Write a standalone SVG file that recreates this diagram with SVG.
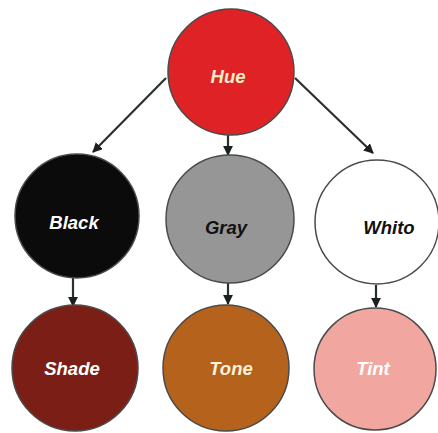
<svg xmlns="http://www.w3.org/2000/svg" width="438" height="433" viewBox="0 0 438 433">
<style>
.n{stroke:#4a4a4a;stroke-width:1.5}
.t{font-family:"Liberation Sans",Arial,sans-serif;font-weight:bold;font-style:italic;font-size:18.5px;text-anchor:middle;dominant-baseline:central}
.c{stroke:#2a3030;stroke-width:2.2;fill:none;marker-end:url(#ah)}
</style>
<defs>
<marker id="ah" viewBox="0 0 10 10" refX="9" refY="5" markerWidth="4.5" markerHeight="4.5" orient="auto" markerUnits="strokeWidth">
<path d="M0,0 L10,5 L0,10 z" fill="#1a2020"/>
</marker>
</defs>
<rect width="438" height="433" fill="#fff"/>
<g id="connectors">
<line class="c" x1="166" y1="78" x2="93" y2="152"/>
<line class="c" x1="295" y1="78" x2="373" y2="153"/>
<line class="c" x1="228" y1="135" x2="228" y2="155"/>
<line class="c" x1="73" y1="278" x2="73" y2="306"/>
<line class="c" x1="228" y1="283" x2="228" y2="304"/>
<line class="c" x1="376" y1="285" x2="376" y2="307"/>
</g>
<g id="hue"><circle class="n" cx="231" cy="72" r="63" fill="#df2226"/><text class="t" x="228" y="76" fill="#f6ecc8">Hue</text></g>
<g id="black"><circle class="n" cx="77" cy="216" r="62" fill="#0b0b0b"/><text class="t" x="74" y="222" fill="#fff">Black</text></g>
<g id="gray"><circle class="n" cx="230" cy="219" r="64" fill="#969696"/><text class="t" x="226" y="227" fill="#111">Gray</text></g>
<g id="white"><circle class="n" cx="377" cy="222" r="62" fill="#fff"/><text class="t" x="389" y="227" fill="#111">Whito</text></g>
<g id="shade"><circle class="n" cx="75" cy="368" r="63" fill="#7b1f16"/><text class="t" x="72" y="368" fill="#fff">Shade</text></g>
<g id="tone"><circle class="n" cx="226" cy="368" r="63" fill="#b5621c"/><text class="t" x="231" y="368" fill="#fbf2d8">Tone</text></g>
<g id="tint"><circle class="n" cx="375" cy="369" r="61" fill="#f1a7a0"/><text class="t" x="373" y="368" fill="#fff">Tint</text></g>
</svg>
